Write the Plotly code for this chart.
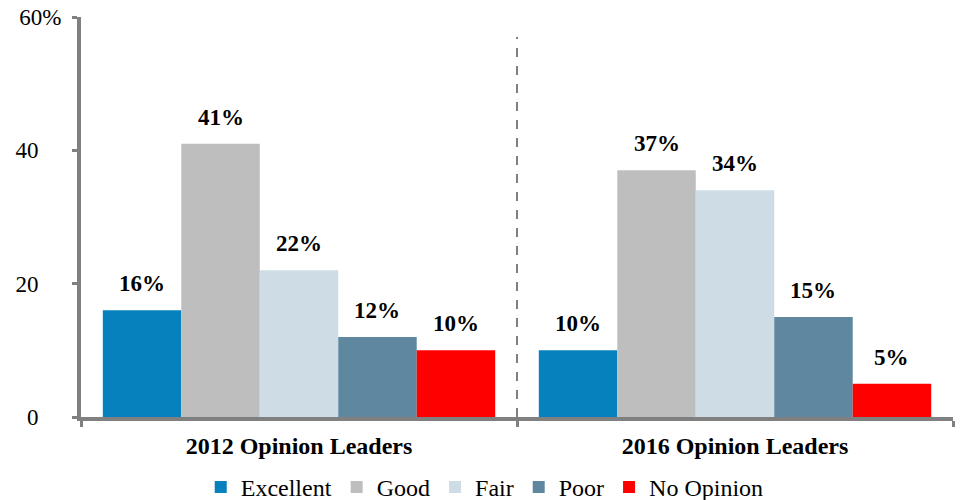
import plotly.graph_objects as go

categories = ["2012 Opinion Leaders", "2016 Opinion Leaders"]
series_names = ["Excellent", "Good", "Fair", "Poor", "No Opinion"]
excellent = [16, 10]
good = [41, 37]
fair = [22, 34]
poor = [12, 15]
no_opinion = [10, 5]
series_values = [excellent, good, fair, poor, no_opinion]
colors = ["#0781BD", "#BEBEBE", "#CEDCE6", "#5F88A0", "#FF0000"]
y_tickvals = [0, 20, 40, 60]
y_ticktext = ["0", "20", "40", "60%"]

FONT = "'Liberation Serif', 'Times New Roman', serif"
W, H = 961, 500
ML, MR, MT, MB = 81, 8, 17, 83
BARGAP = 0.1

fig = go.Figure()
for name, vals, col in zip(series_names, series_values, colors):
    fig.add_trace(go.Bar(name=name, x=categories, y=vals, marker=dict(color=col, line=dict(width=0))))

# data labels as annotations above each bar
plot_w = W - ML - MR
cat_w = plot_w / len(categories)
bar_w = cat_w * (1 - BARGAP) / len(series_names)
n = len(series_names)
for i, vals in enumerate(series_values):
    for c, v in zip(categories, vals):
        fig.add_annotation(x=c, y=v, xref="x", yref="y", text=f"<b>{v}%</b>",
                           showarrow=False, yanchor="bottom", yshift=12,
                           xshift=(i - (n - 1) / 2) * bar_w,
                           font=dict(family=FONT, size=23, color="#000"))

fig.add_shape(type="line", xref="x", yref="y", x0=0.5, x1=0.5, y0=0, y1=57,
              line=dict(color="#808080", width=2, dash="dash"))

# emulate centred y tick labels: pad labels without the % sign
NBSP = "\u00a0"
y_ticktext_disp = [t if t.endswith("%") else t + NBSP * 4 for t in y_ticktext]

fig.update_layout(
    width=W, height=H,
    margin=dict(l=ML, r=MR, t=MT, b=MB, autoexpand=False),
    barmode="group", bargap=BARGAP, bargroupgap=0,
    plot_bgcolor="white", paper_bgcolor="white",
    font=dict(family=FONT, size=23, color="#000"),
    showlegend=True,
    legend=dict(orientation="h", x=0.463, xanchor="center", y=-0.12, yanchor="top",
                font=dict(family=FONT, size=24, color="#000"), itemwidth=30,
                traceorder="normal"),
    xaxis=dict(type="category", range=[-0.5, 1.5], showline=True, linecolor="#808080", linewidth=4,
               ticks="outside", tickson="boundaries", ticklen=6, tickwidth=3, tickcolor="#808080",
               showgrid=False, tickfont=dict(family=FONT, size=24, color="#000"),
               ticklabelstandoff=4, automargin=False),
    yaxis=dict(range=[0, 60], tickvals=y_tickvals, ticktext=y_ticktext_disp, showline=True,
               linecolor="#808080", linewidth=4, ticks="outside", ticklen=5, tickwidth=3,
               tickcolor="#808080", showgrid=False, zeroline=False, automargin=False,
               tickfont=dict(family=FONT, size=23, color="#000"), ticklabelstandoff=6),
)
fig.update_xaxes(ticktext=[f"<b>{c}</b>" for c in categories], tickvals=categories)

fig.write_html("out.html", post_script="document.body.style.margin='0';",
               config={"displayModeBar": False})
